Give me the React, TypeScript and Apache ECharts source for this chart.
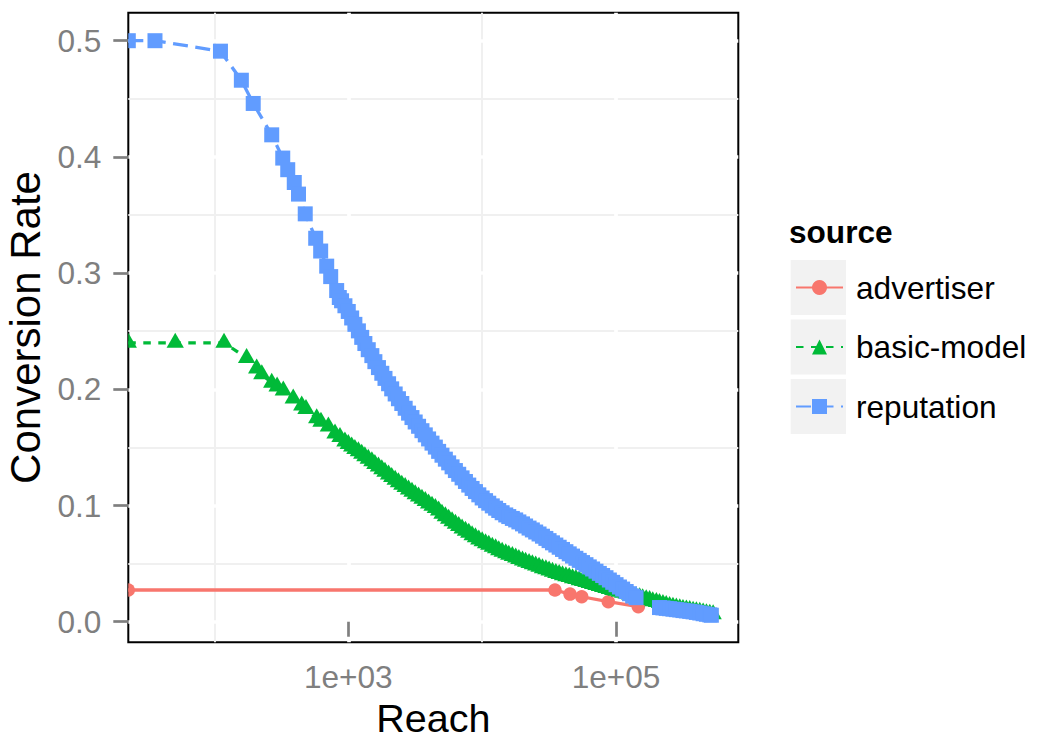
import React, { useEffect, useRef } from 'react';
import * as echarts from 'echarts';

const FONT = '"Liberation Sans", Arial, Helvetica, sans-serif';

const seriesNames = ['advertiser', 'basic-model', 'reputation'];
const seriesColors = ['#F8766D', '#00BA38', '#619CFF'];

// reach = 0 is drawn at the panel's left edge (log10(0) = -Inf)
const advertiserReach = [0, 34970, 45300, 55400, 87500, 146600];
const advertiserRate = [0.0273, 0.0273, 0.0238, 0.0215, 0.0172, 0.0129];

const basicReach = [
  0, 51, 118, 174, 207, 226, 268, 294, 327, 388, 449, 483, 581, 625, 710, 796, 867,
  944, 1000, 1060, 1120, 1190, 1260, 1330, 1410, 1500, 1580,
  1680, 1780, 1880, 2000, 2110, 2240, 2370, 2510, 2660, 2820,
  2990, 3160, 3350, 3550, 3760, 3980, 4220, 4470, 4730, 5010,
  5310, 5620, 5960, 6310, 6680, 7080, 7500, 7940, 8410, 8910,
  9440, 10000, 10600, 11200, 11900, 12600, 13300, 14100, 15000, 15800,
  16800, 17800, 18800, 20000, 21100, 22400, 23700, 25100, 26600, 28200,
  29900, 31600, 33500, 35500, 37600, 39800, 42200, 44700, 47300, 50100,
  53100, 56200, 59600, 63100, 66800, 70800, 75000, 79400, 84100, 89100,
  94400, 100000, 106000, 112000, 119000, 126000, 133000, 141000, 150000, 158000,
  168000, 178000, 188000, 200000, 211000, 224000, 237000, 251000, 266000, 282000,
  299000, 316000, 335000, 355000, 376000, 398000, 422000, 447000, 473000, 501000,
  531000,
];
const basicRate = [
  0.240, 0.240, 0.240, 0.227, 0.218, 0.213, 0.2056, 0.2025, 0.199, 0.192, 0.186, 0.183, 0.175, 0.172, 0.168, 0.162, 0.159,
  0.1551, 0.1530, 0.1509, 0.1487, 0.1466, 0.1445, 0.1424, 0.1402, 0.1380, 0.1357,
  0.1335, 0.1312, 0.1290, 0.1267, 0.1245, 0.1222, 0.1200, 0.1179, 0.1159, 0.1138,
  0.1119, 0.1098, 0.1078, 0.1058, 0.1038, 0.1018, 0.0998, 0.0978, 0.0958, 0.0929,
  0.0908, 0.0887, 0.0865, 0.0844, 0.0823, 0.0803, 0.0784, 0.0765, 0.0745, 0.0726,
  0.0707, 0.0692, 0.0676, 0.0662, 0.0646, 0.0632, 0.0616, 0.0603, 0.0590, 0.0577,
  0.0565, 0.0552, 0.0540, 0.0528, 0.0517, 0.0506, 0.0495, 0.0484, 0.0473, 0.0461,
  0.0451, 0.0441, 0.0430, 0.0420, 0.0411, 0.0401, 0.0392, 0.0384, 0.0375, 0.0367,
  0.0358, 0.0350, 0.0341, 0.0333, 0.0324, 0.0316, 0.0307, 0.0299, 0.0290, 0.0282,
  0.0274, 0.0266, 0.0258, 0.0250, 0.0243, 0.0235, 0.0227, 0.0219, 0.0211, 0.0203,
  0.0194, 0.0186, 0.0177, 0.0169, 0.0161, 0.0152, 0.0144, 0.0136, 0.0129, 0.0122,
  0.0116, 0.0110, 0.0105, 0.0100, 0.0095, 0.0090, 0.0085, 0.0079, 0.0074, 0.0069,
  0.0064,
];

const reputationReach = [
  0, 36, 111, 159, 195, 268, 324, 353, 395, 425, 477, 571, 622, 690, 739, 819, 857,
  891, 944, 1000, 1060, 1120, 1190, 1260, 1330, 1410, 1500,
  1580, 1680, 1780, 1880, 2000, 2110, 2240, 2370, 2510, 2660,
  2820, 2990, 3160, 3350, 3550, 3760, 3980, 4220, 4470, 4730,
  5010, 5310, 5620, 5960, 6310, 6680, 7080, 7500, 7940, 8410,
  8910, 9440, 10000, 10600, 11200, 11900, 12600, 13300, 14100, 15000,
  15800, 16800, 17800, 18800, 20000, 21100, 22400, 23700, 25100, 26600,
  28200, 29900, 31600, 33500, 35500, 37600, 39800, 42200, 44700, 47300,
  50100, 53100, 56200, 59600, 63100, 66800, 70800, 75000, 79400, 84100,
  89100, 94400, 100000, 106000, 112000, 119000, 126000, 133000, 141000,
  211000, 224000, 237000, 251000, 266000, 282000, 299000, 316000, 335000, 355000,
  376000, 398000, 422000, 447000, 473000, 501000, 515000,
];
const reputationRate = [
  0.5, 0.5, 0.491, 0.466, 0.446, 0.419, 0.399, 0.389, 0.378, 0.368, 0.351, 0.330, 0.319, 0.306, 0.297, 0.285, 0.279,
  0.2762, 0.2719, 0.2670, 0.2614, 0.2559, 0.2503, 0.2447, 0.2394, 0.2341, 0.2290,
  0.2238, 0.2187, 0.2138, 0.2094, 0.2048, 0.2004, 0.1960, 0.1919, 0.1878, 0.1837,
  0.1795, 0.1757, 0.1719, 0.1682, 0.1644, 0.1608, 0.1573, 0.1537, 0.1503, 0.1466,
  0.1433, 0.1399, 0.1367, 0.1333, 0.1301, 0.1269, 0.1238, 0.1207, 0.1176, 0.1147,
  0.1120, 0.1092, 0.1065, 0.1042, 0.1020, 0.0997, 0.0977, 0.0957, 0.0938, 0.0919,
  0.0905, 0.0889, 0.0876, 0.0859, 0.0842, 0.0824, 0.0806, 0.0790, 0.0772, 0.0755,
  0.0736, 0.0717, 0.0698, 0.0679, 0.0660, 0.0641, 0.0622, 0.0603, 0.0584, 0.0565,
  0.0546, 0.0528, 0.0509, 0.0491, 0.0472, 0.0454, 0.0435, 0.0416, 0.0398, 0.0379,
  0.0359, 0.0339, 0.0319, 0.0299, 0.0281, 0.0260, 0.0241, 0.0221, 0.0207,
  0.0122, 0.0119, 0.0115, 0.0112, 0.0108, 0.0104, 0.0101, 0.0096, 0.0093, 0.0089,
  0.0085, 0.0080, 0.0075, 0.0069, 0.0064, 0.0059, 0.0056,
];

// axes (x in log10 units)
const X_MIN = 1.357;
const X_MAX = 5.913;
const Y_MIN = -0.0177;
const Y_MAX = 0.5241;
const xMajorTicks = [3, 5];
const xMinorTicks = [2, 4];
const yMajorTicks = [0, 0.1, 0.2, 0.3, 0.4, 0.5];
const yMinorTicks = [0.05, 0.15, 0.25, 0.35, 0.45];

const toX = (r: number) => (r > 0 ? Math.log10(r) : X_MIN);

type Half = { symbol: string; size: number[]; offset: number[] };
const halfSymbols: Half[] = [
  { symbol: 'path://M0,0 A1,1 0 0 1 0,2 Z', size: [6.75, 13.5], offset: [3.375, 0] },
  { symbol: 'path://M0,0 L1,2 L0,2 Z', size: [8.65, 15], offset: [4.325, -2.5] },
  { symbol: 'path://M0,0 L1,0 L1,2 L0,2 Z', size: [7.5, 15], offset: [3.75, 0] },
];

function buildData(reach: number[], rate: number[], idx: number) {
  const n = Math.min(reach.length, rate.length);
  const out: any[] = [];
  for (let i = 0; i < n; i++) {
    const r = reach[i];
    const item: any = { value: [toX(r), rate[i]] };
    if (r === 0) {
      const h = halfSymbols[idx];
      item.symbol = h.symbol;
      item.symbolSize = h.size;
      item.symbolOffset = h.offset;
    }
    out.push(item);
  }
  return out;
}

export default function App() {
  const ref = useRef<HTMLDivElement>(null);
  useEffect(() => {
    if (!ref.current) return;
    const chart = echarts.init(ref.current, undefined, { renderer: 'svg' });
    const tickColor = '#7F7F7F';
    const labelSize = 31.6;
    const titleSize = 39.5;

    const lineSeries = (i: number, data: any[], symbol: string, size: any, dash: any, offset?: number[]) => ({
      name: seriesNames[i],
      type: 'line',
      data,
      clip: false,
      symbol,
      symbolSize: size,
      symbolOffset: offset || [0, 0],
      showSymbol: true,
      showAllSymbol: true,
      color: seriesColors[i],
      lineStyle: { width: 3.3, color: seriesColors[i], type: dash, cap: 'butt' },
      itemStyle: { color: seriesColors[i], borderWidth: 0 },
      emphasis: { disabled: true },
      z: 2,
    });

    chart.setOption({
      animation: false,
      backgroundColor: '#ffffff',
      textStyle: { fontFamily: FONT },
      grid: {
        left: 128.3,
        right: 302.7,
        top: 12.7,
        bottom: 100.7,
        show: true,
        borderColor: '#000000',
        borderWidth: 2,
        backgroundColor: 'transparent',
        containLabel: false,
        outerBoundsMode: 'none',
      },
      title: {
        text: 'source',
        left: 789,
        top: 216,
        padding: 0,
        textStyle: { fontSize: labelSize, fontWeight: 'bold', color: '#000', fontFamily: FONT },
      },
      legend: {
        orient: 'vertical',
        left: 795,
        top: 260,
        padding: 0,
        itemGap: 4.5,
        itemWidth: 47,
        itemHeight: 18.75,
        selectedMode: false,
        data: seriesNames,
        textStyle: { fontSize: labelSize, color: '#000', fontFamily: FONT, lineHeight: 55, padding: [0, 0, 0, 8] },
      },
      graphic: [0, 1, 2].map((k) => ({
        type: 'rect',
        z: 1,
        silent: true,
        shape: { x: 790.7, y: 260 + k * 59.5, width: 55.3, height: 55 },
        style: { fill: '#F2F2F2' },
      })),
      xAxis: [
        {
          type: 'value',
          min: X_MIN,
          max: X_MAX,
          z: 1,
          name: 'Reach',
          nameLocation: 'middle',
          nameGap: 52,
          nameTextStyle: { fontSize: titleSize, color: '#000', fontFamily: FONT },
          axisLine: { show: false },
          axisTick: { show: true, customValues: xMajorTicks, length: 15, lineStyle: { color: tickColor, width: 2.7 } },
          axisLabel: {
            customValues: xMajorTicks,
            formatter: (v: number) => '1e+' + String(Math.round(v)).padStart(2, '0'),
            color: tickColor,
            fontSize: labelSize,
            margin: 18.5,
            fontFamily: FONT,
          },
          splitLine: { show: true, lineStyle: { color: '#ffffff', width: 3.7 } },
        },
        {
          type: 'value',
          min: X_MIN,
          max: X_MAX,
          z: 0,
          axisLine: { show: false },
          axisTick: { show: false, customValues: xMinorTicks },
          axisLabel: { show: false, customValues: xMinorTicks },
          splitLine: { show: true, lineStyle: { color: '#F0F0F0', width: 1.9 } },
        },
      ],
      yAxis: [
        {
          type: 'value',
          min: Y_MIN,
          max: Y_MAX,
          z: 1,
          name: 'Conversion Rate',
          nameLocation: 'middle',
          nameGap: 73,
          nameTextStyle: { fontSize: 42, color: '#000', fontFamily: FONT },
          axisLine: { show: false },
          axisTick: { show: true, customValues: yMajorTicks, length: 15, lineStyle: { color: tickColor, width: 2.7 } },
          axisLabel: {
            customValues: yMajorTicks,
            formatter: (v: number) => v.toFixed(1),
            color: tickColor,
            fontSize: labelSize,
            margin: 27,
            fontFamily: FONT,
          },
          splitLine: { show: true, lineStyle: { color: '#ffffff', width: 3.7 } },
        },
        {
          type: 'value',
          min: Y_MIN,
          max: Y_MAX,
          z: 0,
          axisLine: { show: false },
          axisTick: { show: false, customValues: yMinorTicks },
          axisLabel: { show: false, customValues: yMinorTicks },
          splitLine: { show: true, lineStyle: { color: '#F0F0F0', width: 1.9 } },
        },
      ],
      series: [
        lineSeries(0, buildData(advertiserReach, advertiserRate, 0), 'circle', 13.5, 'solid'),
        lineSeries(1, buildData(basicReach, basicRate, 1), 'triangle', [17.3, 15], [7.5, 7.5], [0, -2.5]),
        lineSeries(2, buildData(reputationReach, reputationRate, 2), 'rect', 15, [15, 7.5]),
      ],
    });
    return () => chart.dispose();
  }, []);
  return (
    <div
      ref={ref}
      style={{ position: 'absolute', left: 0, top: 0, width: 1041, height: 743, background: '#fff' }}
    />
  );
}
